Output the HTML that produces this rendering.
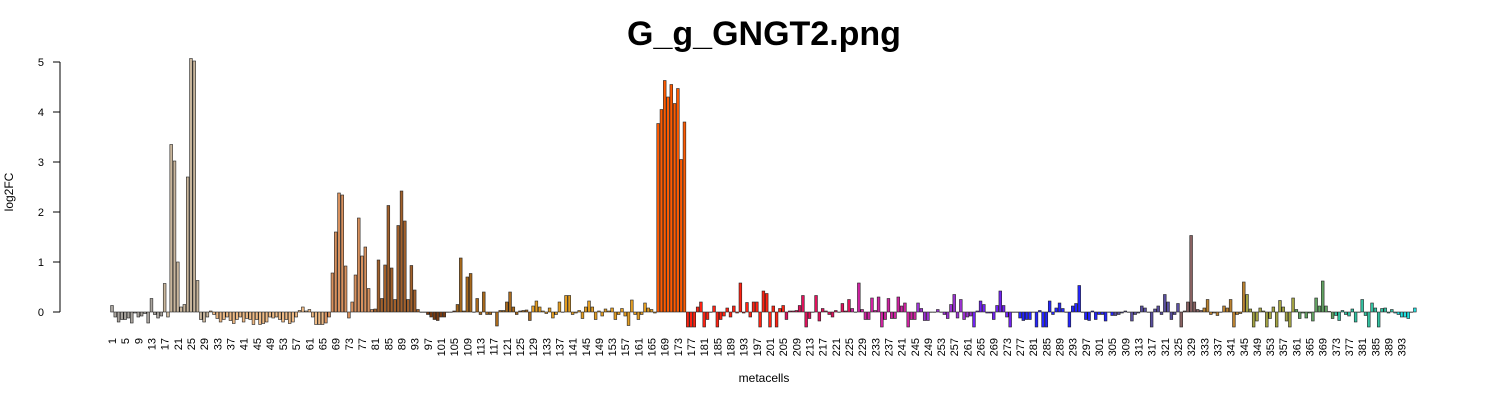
<!DOCTYPE html>
<html><head><meta charset="utf-8"><style>
body{margin:0;background:#fff}
svg{display:block;font-family:"Liberation Sans",sans-serif}
</style></head><body>
<svg id="chart" width="1500" height="400" viewBox="0 0 1500 400">
<text x="764" y="45" text-anchor="middle" font-size="34" font-weight="bold">G_g_GNGT2.png</text>
<text transform="translate(13,192) rotate(-90)" text-anchor="middle" font-size="12">log2FC</text>
<text x="764" y="382" text-anchor="middle" font-size="12">metacells</text>
<g id="yaxis"></g>
<g id="bars"></g>
<g id="xlabels"></g>
</svg>
<script>
const yTicks = [0,1,2,3,4,5];
const values = [
0.13,-0.1,-0.2,-0.15,-0.15,-0.12,-0.22,-0.02,-0.1,-0.08,-0.03,-0.22,0.27,-0.05,-0.12,-0.08,0.57,-0.1,3.35,3.02,
1.0,0.1,0.15,2.7,5.07,5.02,0.63,-0.15,-0.2,-0.1,0.02,-0.05,
-0.13,-0.2,-0.15,-0.1,-0.17,-0.23,-0.15,-0.1,-0.2,-0.13,-0.15,-0.25,-0.15,-0.25,-0.23,-0.2,-0.1,-0.12,-0.1,-0.15,
-0.2,-0.15,-0.23,-0.2,-0.1,0.03,0.1,0.02,0.05,-0.1,-0.25,-0.25,-0.25,-0.22,-0.1,
0.78,1.6,2.38,2.34,0.92,-0.12,0.2,0.74,1.88,1.12,1.3,0.47,0.05,0.06,1.04,0.27,0.94,2.13,0.88,0.25,1.73,2.42,1.82,0.25,0.93,0.44,0.05,0,0,
-0.05,-0.1,-0.15,-0.17,-0.1,-0.1,0,0,0.02,0.15,1.08,0.02,0.7,0.77,0,0.27,-0.05,0.4,-0.05,-0.05,0,-0.28,0.03,0.03,0.2,0.4,0.1,-0.05,0.02,0.03,0.04,-0.17,0.12,
0.22,0.1,0.02,-0.03,0.08,-0.12,-0.05,0.2,0,0.33,0.33,-0.05,-0.02,0.03,-0.13,0.1,0.22,0.1,-0.15,0.02,-0.08,0.06,0.02,0.08,-0.15,-0.05,0.07,-0.08,-0.27,0.24,-0.05,-0.15,-0.05,0.18,0.08,0.05,-0.02,
3.77,4.05,4.63,4.3,4.55,4.17,4.47,3.05,3.8,
-0.3,-0.3,-0.3,0.1,0.2,-0.3,-0.15,0,0.12,-0.3,-0.15,-0.08,0.08,-0.1,0.12,-0.02,0.58,-0.02,0.19,-0.1,0.2,
0.2,-0.3,0.42,0.37,-0.3,0.12,-0.3,0.07,0.13,-0.15,0.02,0.02,0.03,0.13,0.33,-0.3,-0.13,0,0.33,-0.18,0.07,0.02,-0.05,-0.1,0.03,0,0.17,0.02,0.25,0.07,0,0.58,0.05,-0.15,-0.15,0.28,0.03,0.3,-0.3,-0.15,0.27,-0.13,-0.13,0.3,0.12,0.18,-0.3,-0.15,-0.15,0.18,0.07,-0.17,-0.17,0,0,0.05,0,-0.05,-0.13,0.15,0.35,-0.12,0.25,-0.15,-0.1,-0.08,-0.3,0.02,
0.22,0.15,-0.02,-0.02,-0.15,0.13,0.42,0.13,-0.1,-0.3,0,0,-0.12,-0.17,-0.15,-0.15,0,-0.3,0.03,-0.3,-0.3,0.22,-0.05,0.08,0.18,0.07,0,-0.3,0.12,0.17,0.53,0,-0.15,-0.17,0.02,-0.15,-0.05,-0.05,-0.18,0,-0.07,-0.07,-0.05,-0.02,0.02,0,-0.18,-0.05,-0.02,0.12,0.08,0,-0.3,0.06,0.12,-0.05,0.35,0.2,-0.15,-0.05,0.17,-0.3,0.02,0.2,1.53,0.2,0.05,0.03,
0.08,0.25,-0.05,-0.02,-0.07,0,0.12,0.08,0.25,-0.3,-0.05,-0.03,0.6,0.35,0.06,-0.3,-0.18,0.08,0.02,-0.3,-0.13,0.1,-0.3,0.23,0.1,-0.18,-0.3,0.28,0.05,-0.13,-0.02,-0.12,-0.02,-0.18,0.28,0.12,0.62,0.12,0.01,-0.13,-0.07,-0.17,0.03,-0.05,-0.08,0.06,-0.2,0,0.25,-0.07,-0.3,0.18,0.08,-0.3,0.07,0.08,-0.02,0.05,-0.02,-0.05,-0.1,-0.1,-0.13,0,0.08
];
const categories = values.map((v,i)=>String(i+1));
const groupEnds = [16,30,65,80,95,105,128,166,175,205,225,245,262,275,305,325,332,345,360,372,390,9999];
const groupColors = ["#a9a49e","#c9b69c","#efbb86","#d8915e","#a2612c","#7a3c12","#a8691c","#e39d22","#ff5a00","#ff2212","#e0125c","#d022a2","#9c32d2","#7022f0","#2424ff","#5a4fa0","#8a6262","#bb8230","#a3a343","#62a262","#32c2a2","#22e2e2"];

const svgNS="http://www.w3.org/2000/svg";
const x0=112, step=3.29, y0=312, yScale=50;
function xPos(i){return x0+i*step;}
function yPos(v){return y0-v*yScale;}
function colorFor(i){const n=i+1;for(let g=0;g<groupEnds.length;g++){if(n<=groupEnds[g])return groupColors[g];}return "#888";}

const yaxis=document.getElementById('yaxis');
const al=document.createElementNS(svgNS,'line');


al.setAttribute('x1',60);al.setAttribute('x2',60);al.setAttribute('y1',yPos(yTicks[yTicks.length-1]));al.setAttribute('y2',yPos(yTicks[0]));al.setAttribute('stroke','#000');
yaxis.appendChild(al);
yTicks.forEach(t=>{
 const l=document.createElementNS(svgNS,'line');
 
 
 l.setAttribute('x1',53);l.setAttribute('x2',60);l.setAttribute('y1',yPos(t));l.setAttribute('y2',yPos(t));l.setAttribute('stroke','#000');
 yaxis.appendChild(l);
 const tx=document.createElementNS(svgNS,'text');
 
 
 tx.setAttribute('x',44);tx.setAttribute('y',yPos(t)+4);tx.setAttribute('text-anchor','end');tx.setAttribute('font-size','11');
 tx.textContent=String(t);
 yaxis.appendChild(tx);
});

const bars=document.getElementById('bars');
const bw=2.74;
values.forEach((v,i)=>{
 const r=document.createElementNS(svgNS,'rect');
 
 
 const top=Math.min(yPos(v),y0), h=Math.max(Math.abs(yPos(v)-y0),0.3);
 r.setAttribute('x',xPos(i)-bw/2);r.setAttribute('y',top);r.setAttribute('width',bw);r.setAttribute('height',h);
 r.setAttribute('fill',colorFor(i));r.setAttribute('stroke','#222');r.setAttribute('stroke-width','0.6');
 bars.appendChild(r);
});

const xl=document.getElementById('xlabels');
categories.forEach((c,i)=>{
 if(i%4!==0 || i>values.length-5)return;
 const t=document.createElementNS(svgNS,'text');
 
 
 const x=xPos(i)+4;
 t.setAttribute('transform','translate('+x+',338) rotate(-90)');
 t.setAttribute('text-anchor','end');t.setAttribute('font-size','11');
 t.textContent=c;
 xl.appendChild(t);
});
</script>
</body></html>
